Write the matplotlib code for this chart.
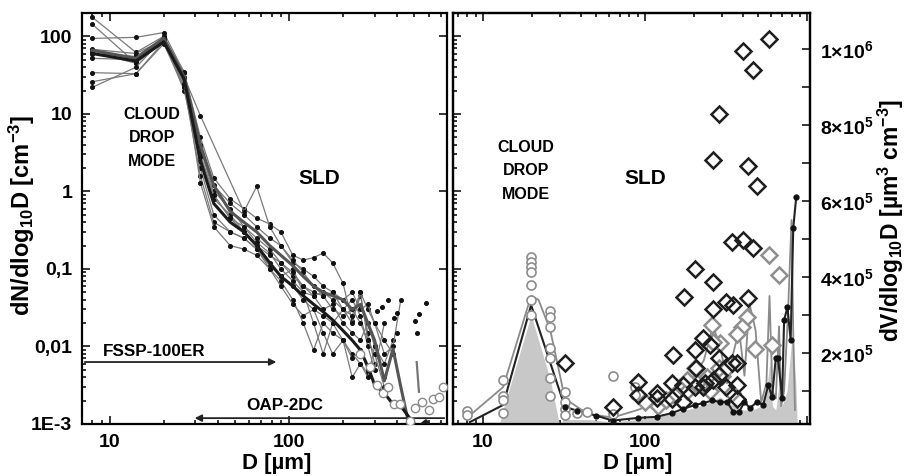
import numpy as np
import matplotlib
matplotlib.use('Agg')
import matplotlib.pyplot as plt
from matplotlib.ticker import FixedLocator, FixedFormatter, LogLocator, NullFormatter, MultipleLocator

nan = np.nan

# ---- left panel: number size distributions (grid of bin centres, um) ----
d_grid = [8, 14, 20, 26, 32, 38, 47, 56, 66, 78, 90, 105, 120, 137, 155, 175, 200,
          225, 250, 275, 300, 340, 380, 420, 470, 520, 580, 640, 700]

thick_a = [60, 48, 85, 28, 2.5, 0.7, 0.4, 0.3, 0.2, 0.12, 0.08, 0.06, 0.045, 0.035, 0.028, 0.022,
           0.016, 0.012, 0.009, 0.0055, 0.0032, 0.0025, 0.0018, 0.0017, 0.0012, 0.0009, 0.0011, 0.0008, 0.001]
thick_b = [66, 52, 95, 30, 4.0, 1.2, 0.55, 0.4, 0.3, 0.2, 0.15, 0.11, 0.08, 0.06, 0.05, 0.045,
           0.04, 0.03, 0.035, 0.02, 0.012, 0.0036, 0.0093, 0.003, 0.0009, nan, nan, nan, nan]
thin1 = [94, 97, 112, 34, 5.0, 1.5, 0.8, 0.6, 0.45, 0.38, 0.3, 0.15, 0.13, 0.14, 0.16, 0.12,
         0.065, 0.021, 0.045, 0.015, 0.006, nan, nan, nan, nan, nan, nan, nan, nan]
thin2 = [176, 62, 100, 30, 9.5, nan, nan, 0.55, 1.16, 0.35, 0.2, 0.12, 0.1, 0.08, 0.06, 0.05,
         0.03, 0.02, 0.05, 0.012, nan, nan, nan, nan, nan, nan, nan, nan, nan]
thin3 = [143, 45, 95, 25, 2.0, 0.5, 0.3, 0.25, 0.18, 0.1, 0.07, 0.04, 0.02, 0.009, 0.02, 0.015,
         0.012, 0.004, 0.006, 0.0045, nan, nan, nan, nan, nan, nan, nan, nan, nan]
thin4 = [68, 60, 90, 22, 3.5, 1.0, 0.6, 0.35, 0.22, 0.16, 0.1, 0.07, 0.05, 0.045, 0.05, 0.04,
         0.03, 0.025, 0.05, 0.03, 0.02, 0.012, 0.008, nan, nan, nan, nan, nan, nan]
thin5 = [62, 45, 85, 20, 2.5, 0.8, 0.5, 0.3, 0.2, 0.12, 0.08, 0.1, 0.05, 0.02, 0.008, 0.02,
         0.03, 0.04, 0.025, 0.01, 0.005, 0.02, nan, nan, nan, nan, nan, nan, nan]
thin6 = [52, 50, 88, 25, 3.0, 0.9, 0.45, 0.3, 0.2, 0.15, 0.12, 0.08, 0.06, 0.045, 0.03, 0.035,
         0.02, 0.015, 0.012, 0.02, 0.01, 0.006, 0.012, nan, nan, nan, nan, nan, nan]
thin7 = [34, 33, 80, 22, 1.6, 0.4, 0.3, 0.25, 0.18, 0.11, 0.08, 0.06, 0.04, 0.03, 0.025, 0.02,
         0.012, 0.008, 0.006, 0.004, 0.01, 0.004, nan, nan, nan, nan, nan, nan, nan]
thin8 = [26, 33, 85, 28, 1.3, 0.35, 0.2, 0.18, 0.15, 0.1, 0.06, 0.035, 0.025, 0.03, 0.015, 0.008,
         0.012, 0.007, 0.009, 0.005, nan, nan, nan, nan, nan, nan, nan, nan, nan]
thin9 = [22, 40, 95, 35, 4.0, 1.2, 0.7, 0.5, 0.35, 0.25, 0.2, 0.13, 0.09, 0.06, 0.045, 0.05,
         0.04, 0.05, 0.03, 0.035, 0.02, 0.008, 0.01, 0.04, nan, nan, nan, nan, nan]
thin10 = [60, 55, 95, 24, 2.8, 0.9, 0.45, 0.35, 0.25, 0.18, 0.12, 0.09, 0.06, 0.05, 0.045, 0.03,
          0.025, 0.03, 0.02, 0.012, 0.008, 0.003, nan, nan, nan, nan, nan, nan, nan]

tail_circ_d = [250, 283, 308, 335, 355, 386, 415, 470, 505, 550, 600, 635, 690, 723]
tail_circ_n = [0.008, 0.0054, 0.0032, 0.0025, 0.003, 0.0018, 0.0018, 0.0011, 0.0016, 0.0019,
               0.0015, 0.0021, 0.0022, 0.003]
loose_d = [308, 330, 356, 386, 398, 402, 505, 530, 515, 580]
loose_n = [0.029, 0.032, 0.04, 0.023, 0.027, 0.015, 0.021, 0.026, 0.015, 0.036]
dash_d = [515, 530]
dash_n = [0.0063, 0.0026]

# ---- right panel: volume distributions ----
fill_d = [8.3, 12.4, 13.5, 19.8, 26, 30, 31, 45, 63, 90, 120, 150, 200, 250, 290, 340, 400, 460,
          520, 560, 590, 610, 640, 680, 700, 750, 800, 820, 850, 870]
fill_v = [0, 0, 6.0e4, 3.0e5, 1.3e5, 0, 2.5e4, 2.5e4, 1.8e4, 2.5e4, 3.2e4, 4.2e4, 5.5e4, 7e4,
          8.4e4, 6.5e4, 5e4, 5e4, 6e4, 1e5, 1.8e5, 6e4, 5e4, 1.4e5, 6e4, 1e5, 2.3e5, 2.3e5, 1.2e5, 0]

mean_d = [8.3, 13.3, 19.8, 32, 38, 50, 63, 90, 118, 147, 172, 203, 228, 260, 290, 320, 350, 380,
          410, 443, 490, 535, 575, 607, 640, 660, 700, 720, 755, 790, 820, 855]
mean_v = [1.8e4, 6.3e4, 3.26e5, 5.8e4, 4.8e4, 3.5e4, 2.2e4, 2.9e4, 3.2e4, 4.2e4, 5.3e4, 6.3e4,
          6.8e4, 7.5e4, 7.1e4, 7.1e4, 4.5e4, 4.5e4, 7.1e4, 5.5e4, 7.1e4, 6.3e4, 1.16e5, 8.4e4,
          1.87e5, 1.87e5, 8.2e4, 2.87e5, 3.2e5, 2.34e5, 5.3e5, 6.1e5]

gray_d = [8, 13.3, 19.8, 22, 26, 32, 44, 63, 90, 118, 147, 175, 200, 230, 262, 290, 320, 350, 380,
          410, 440, 480, 520, 560, 585, 610, 640, 670, 690, 720, 760, 800, 820, 840]
gray_v = [3.0e4, 1.1e5, 3.5e5, 3.4e5, 2.6e5, 8e4, 4e4, 3e4, 5e4, 7e4, 9e4, 1.1e5, 1.4e5, 1.8e5,
          2.7e5, 2.2e5, 1.2e5, 2.0e5, 2.6e5, 1.4e5, 3.3e5, 2.6e5, 7e4, 1.2e5, 3.5e5, 1.0e5, 8e4,
          2.7e5, 6e4, 1.0e5, 3.0e5, 5.5e5, 2.5e5, 5e4]

circ_d = [8, 8, 13.3, 13.3, 13.3, 13.3, 19.8, 19.8, 19.8, 19.8, 19.8, 19.8, 19.8, 26, 26, 26, 26,
          26, 26, 26, 32, 32, 32, 32, 38, 44, 63, 63, 86, 86]
circ_v = [4.7e4, 3.7e4, 1.29e5, 8.7e4, 7.6e4, 4.2e4, 4.53e5, 4.39e5, 4.26e5, 4.13e5, 3.79e5, 3.39e5,
          3.0e5, 3.1e5, 2.95e5, 2.68e5, 2.13e5, 1.87e5, 1.34e5, 8.7e4, 9.7e4, 7.1e4, 5.3e4, 3.7e4,
          4.2e4, 4.5e4, 1.4e5, 4e4, 1.1e5, 9e4]

bdia_d = [32, 63, 90, 90, 118, 118, 147, 149, 172, 172, 174, 203, 203, 206, 228, 228, 235, 262, 262,
          262, 286, 286, 286, 316, 345, 350, 370, 370, 403, 403, 430, 430, 464, 464, 490, 584,
          147, 203, 262, 316, 345, 370, 250]
bdia_v = [1.74e5, 5.8e4, 1.24e5, 9e4, 9.5e4, 8.2e4, 1.2e5, 1.95e5, 1.16e5, 7e4, 3.47e5, 4.2e5,
          2.08e5, 1.6e5, 2.4e5, 1.1e5, 1.2e5, 3.87e5, 3.16e5, 7.08e5, 8.3e5, 1.87e5, 1.42e5, 3.34e5,
          4.92e5, 3.26e5, 1.74e5, 1.16e5, 9.95e5, 4.97e5, 3.45e5, 6.92e5, 9.45e5, 4.76e5, 6.4e5, 1.026e6,
          8e4, 1.1e5, 1.3e5, 1.1e5, 1.74e5, 8e4, 2.2e5]
gdia_d = [584, 670, 424, 395, 477, 607, 259, 290, 203, 240, 150, 180, 210, 250, 300, 345, 120, 100, 370,
          180, 262, 286, 320, 135]
gdia_v = [4.58e5, 4.05e5, 2.95e5, 2.68e5, 2.1e5, 2.2e5, 2.74e5, 2.26e5, 1.6e5, 1.37e5, 9e4, 1.0e5,
          1.2e5, 1.0e5, 1.4e5, 9.5e4, 6e4, 7e4, 2.5e5, 1.3e5, 2.3e5, 1.6e5, 1.6e5, 7.5e4]

plt.rcParams['font.family'] = ['Liberation Sans', 'DejaVu Sans']
plt.rcParams['font.weight'] = 'bold'
plt.rcParams['mathtext.fontset'] = 'custom'
plt.rcParams['mathtext.rm'] = 'Liberation Sans:bold'
plt.rcParams['mathtext.it'] = 'Liberation Sans:bold'
plt.rcParams['mathtext.bf'] = 'Liberation Sans:bold'

fig = plt.figure(figsize=(9.07, 4.76), dpi=100)
axL = fig.add_axes([82 / 907, 1 - 424 / 476, 365 / 907, 411 / 476])
axR = fig.add_axes([453 / 907, 1 - 424 / 476, 357 / 907, 411 / 476])


def style_log_axes(ax, xlim):
    ax.set_xscale('log')
    ax.set_yscale('log')
    ax.set_xlim(*xlim)
    ax.set_ylim(1e-3, 200)
    for s in ax.spines.values():
        s.set_linewidth(1.6)
    ax.xaxis.set_major_locator(FixedLocator([10, 100, 1000]))
    ax.xaxis.set_major_formatter(FixedFormatter(['10', '100', '']))
    ax.xaxis.set_minor_locator(LogLocator(base=10, subs=np.arange(2, 10)))
    ax.xaxis.set_minor_formatter(NullFormatter())
    ax.yaxis.set_minor_locator(LogLocator(base=10, subs=np.arange(2, 10), numticks=20))
    ax.yaxis.set_minor_formatter(NullFormatter())
    ax.tick_params(which='both', direction='in', top=True, labelsize=14, width=1.1)
    ax.tick_params(which='major', length=6)
    ax.tick_params(which='minor', length=3)
    ax.tick_params(axis='x', pad=7)


style_log_axes(axL, (7, 760))
axL.yaxis.set_major_locator(FixedLocator([1e-3, 1e-2, 1e-1, 1, 10, 100]))
axL.yaxis.set_major_formatter(FixedFormatter(['1E-3', '0,01', '0,1', '1', '10', '100']))
axL.tick_params(axis='y', right=True, pad=7)

D = np.array(d_grid, dtype=float)
thin_sets = [thin1, thin2, thin3, thin4, thin5, thin6, thin7, thin8, thin9, thin10]
for s in thin_sets:
    y = np.array(s, dtype=float)
    m = np.isfinite(y)
    axL.plot(D[m], y[m], '-', color='#7a7a7a', lw=0.9, marker='o', ms=2.6,
             mfc='#111111', mec='#111111', zorder=2)
for s, c, lw in [(thick_b, '#555555', 2.2), (thick_a, '#1a1a1a', 2.2)]:
    y = np.array(s, dtype=float)
    m = np.isfinite(y)
    axL.plot(D[m], y[m], '-', color=c, lw=lw, zorder=3)
axL.plot(tail_circ_d, tail_circ_n, 'o', ms=6, mfc='white', mec='#8a8a8a', mew=1.0, zorder=4)
axL.plot(loose_d, loose_n, 'o', ms=2.6, color='#111111', ls='none', zorder=3)
axL.plot(dash_d, dash_n, '-', color='#777777', lw=1.6, zorder=3)

axL.annotate('', xy=(88, 0.0063), xytext=(7, 0.0063),
             arrowprops=dict(arrowstyle='-|>', color='#222222', lw=1.3, mutation_scale=10))
axL.annotate('', xy=(28.7, 0.00119), xytext=(760, 0.00119),
             arrowprops=dict(arrowstyle='-|>', color='#222222', lw=1.3, mutation_scale=10))
axL.text(9.2, 0.0069, 'FSSP-100ER', fontsize=12.3, fontweight='bold', ha='left', va='bottom')
axL.text(95, 0.00137, 'OAP-2DC', fontsize=12.3, fontweight='bold', ha='center', va='bottom')
axL.text(17.2, 4.9, 'CLOUD\nDROP\nMODE', fontsize=11.5, fontweight='bold', ha='center',
         va='center', linespacing=1.7)
axL.text(147, 1.47, 'SLD', fontsize=15, fontweight='bold', ha='center', va='center')

# right panel: log frame on the left, linear volume axis on the right
style_log_axes(axR, (6.53, 1040))
axR.yaxis.set_major_locator(FixedLocator([1e-3, 1e-2, 1e-1, 1, 10, 100]))
axR.tick_params(axis='y', left=True, right=False, labelleft=False)

axV = axR.twinx()
axV.set_ylim(1.3e4, 1.095e6)
axV.yaxis.set_major_locator(FixedLocator([2e5, 4e5, 6e5, 8e5, 1e6]))
axV.yaxis.set_major_formatter(FixedFormatter(['2×10$^5$', '4×10$^5$', '6×10$^5$',
                                              '8×10$^5$', '1×10$^6$']))
axV.yaxis.set_minor_locator(MultipleLocator(1e5))
axV.tick_params(which='both', direction='in', labelsize=14, width=1.1, pad=7)
axV.tick_params(which='major', length=6)
axV.tick_params(which='minor', length=6)
for s in axV.spines.values():
    s.set_linewidth(1.6)

axV.fill_between(fill_d, fill_v, 0, color='#c8c8c8', lw=0, zorder=1)
axV.plot(gray_d, gray_v, '-', color='#8a8a8a', lw=1.3, zorder=2)
axV.plot(mean_d, mean_v, '-', color='#222222', lw=1.5, zorder=3)
axV.plot(mean_d[3:], mean_v[3:], 'o', ms=3.5, color='#111111', ls='none', zorder=5)
axV.plot(circ_d, circ_v, 'o', ms=6.5, mfc='white', mec='#8c8c8c', mew=1.2, ls='none', zorder=4)
axV.plot(gdia_d, gdia_v, 'D', ms=8.5, mfc='white', mec='#8f8f8f', mew=1.8, ls='none', zorder=4)
axV.plot(bdia_d, bdia_v, 'D', ms=8.5, mfc='none', mec='#1e1e1e', mew=1.8, ls='none', zorder=4)

axV.text(18.4, 6.8e5, 'CLOUD\nDROP\nMODE', fontsize=11.5, fontweight='bold', ha='center',
         va='center', linespacing=1.7)
axV.text(100, 6.6e5, 'SLD', fontsize=15, fontweight='bold', ha='center', va='center')

fig.text(22 / 907, 1 - 215 / 476, 'dN/dlog$_{10}$D [cm$^{-3}$]', rotation=90, fontsize=17,
         fontweight='bold', ha='center', va='center')
fig.text(891 / 907, 1 - 220 / 476, 'dV/dlog$_{10}$D [µm$^3$ cm$^{-3}$]', rotation=90, fontsize=16.5,
         fontweight='bold', ha='center', va='center')
fig.text(277 / 907, 1 - 463 / 476, 'D [µm]', fontsize=16, fontweight='bold', ha='center', va='center')
fig.text(638 / 907, 1 - 463 / 476, 'D [µm]', fontsize=16, fontweight='bold', ha='center', va='center')

fig.savefig('out.png', dpi=100)
